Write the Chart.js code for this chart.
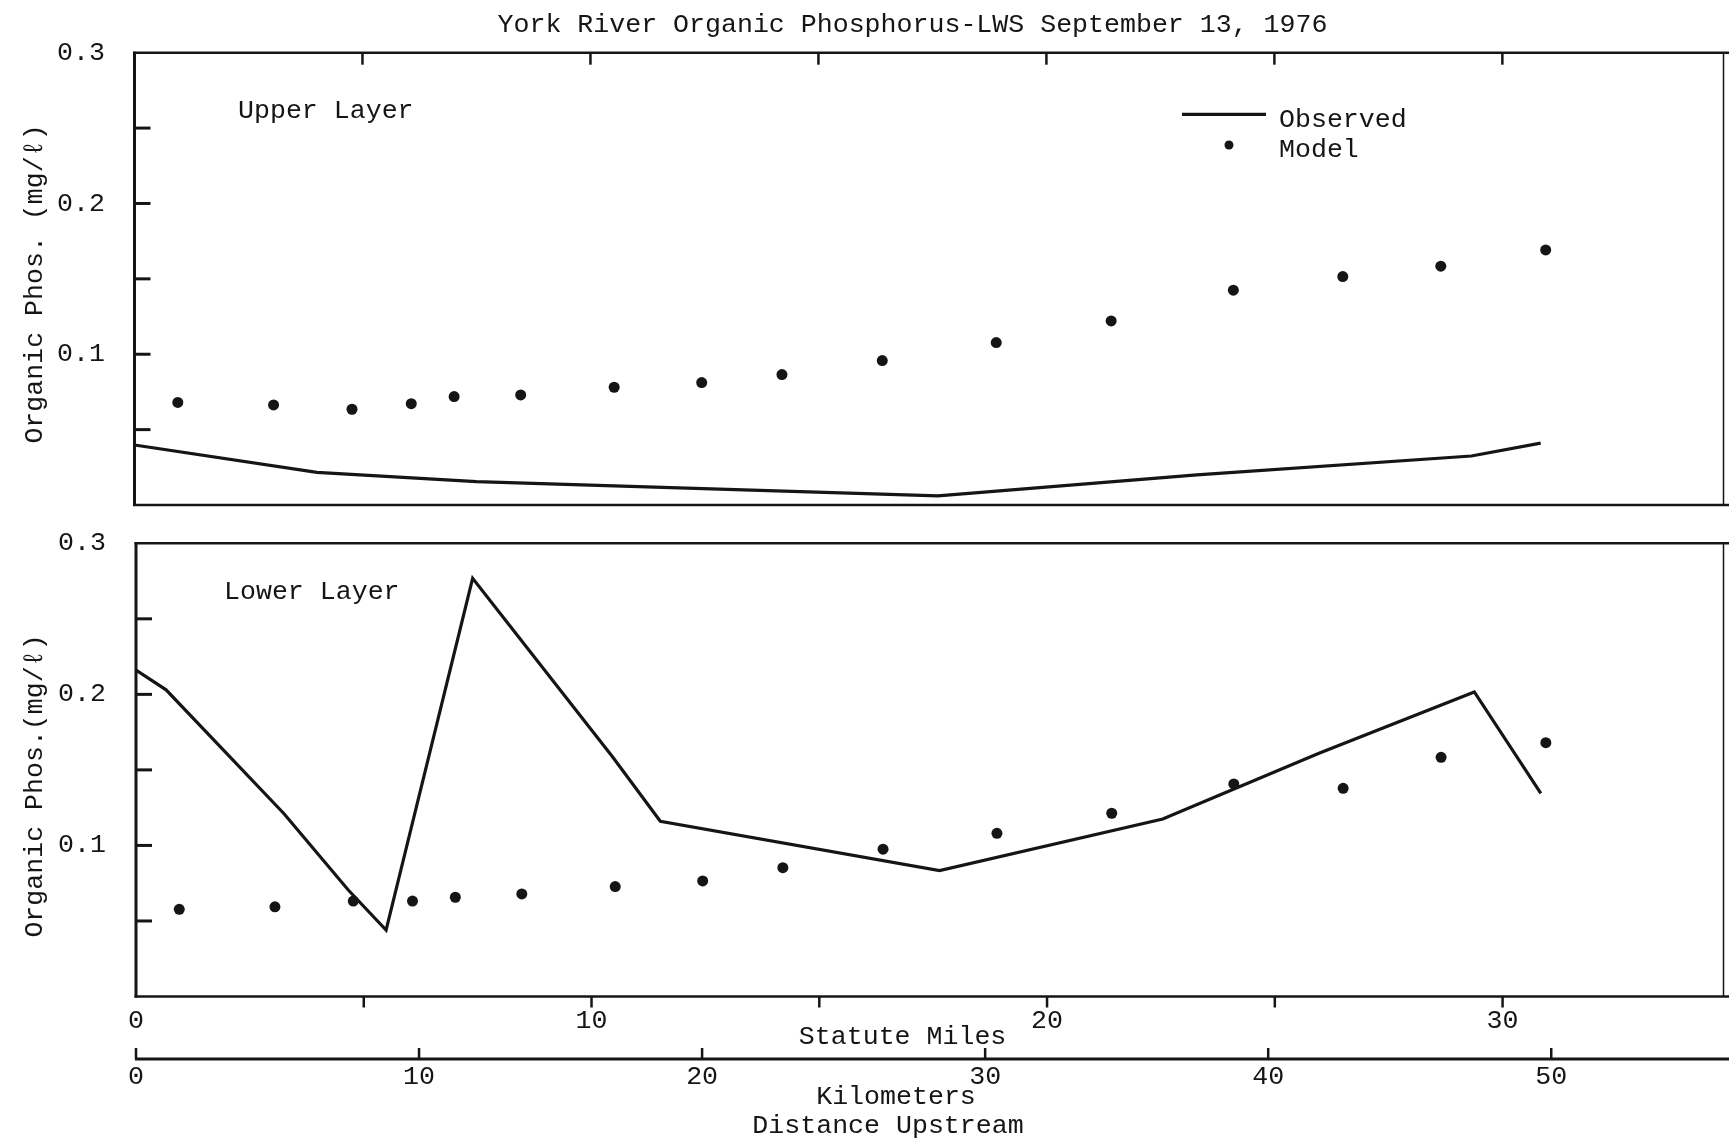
<!DOCTYPE html>
<html>
<head>
<meta charset="utf-8">
<title>York River Organic Phosphorus-LWS September 13, 1976</title>
<script src="https://cdn.jsdelivr.net/npm/chart.js@4.4.0/dist/chart.umd.min.js"></script>
<style>
  html, body { margin: 0; padding: 0; background: #fff; }
  #wrap { position: relative; width: 1729px; height: 1142px; background: #fff; overflow: hidden; }
  canvas { position: absolute; left: 0; }
  #upper { top: 0; }
  #lower { top: 520px; }
</style>
</head>
<body>
<div id="wrap">
  <canvas id="upper" width="1729" height="520"></canvas>
  <canvas id="lower" width="1729" height="622"></canvas>
</div>
<script>
// ---- data -------------------------------------------------------------
// Model segment centres, statute miles upstream (same for both layers)
const modelMiles    = [0.95, 3.05, 4.77, 6.07, 7.01, 8.47, 10.52, 12.44, 14.2, 16.4, 18.9, 21.42, 24.1, 26.5, 28.65, 30.95];
const upperModel    = [0.068, 0.0664, 0.0635, 0.0672, 0.0719, 0.073, 0.0781, 0.0812, 0.0865, 0.0958, 0.1077, 0.1221, 0.1425, 0.1515, 0.1584, 0.1692];
const lowerModel    = [0.0577, 0.0594, 0.0632, 0.0632, 0.0657, 0.0679, 0.0728, 0.0765, 0.0853, 0.0975, 0.108, 0.1213, 0.1407, 0.1378, 0.1583, 0.168];

// Observed profiles (mg/l) along the river
const upperObsMiles = [0, 4.0, 7.5, 17.62, 23.3, 29.32, 30.84];
const upperObserved = [0.0398, 0.0217, 0.0155, 0.006, 0.02, 0.0325, 0.041];
const lowerObsMiles = [0, 0.66, 3.25, 4.66, 5.49, 7.39, 10.46, 11.51, 17.64, 22.54, 25.97, 29.38, 30.84];
const lowerObserved = [0.216, 0.203, 0.121, 0.0705, 0.044, 0.2768, 0.1587, 0.116, 0.0833, 0.1175, 0.161, 0.2016, 0.1345];

// Axis labelling
const seriesNames    = ['Observed', 'Model'];
const yTickLabels    = ['0.1', '0.2', '0.3'];
const mileTickLabels = ['0', '10', '20', '30'];
const kmTickLabels   = ['0', '10', '20', '30', '40', '50'];
const MILES_MAX = 34.85;
const KM_PER_MILE = 1.609344;

// ---- styling helpers --------------------------------------------------
const INK = '#151515';
const FONT = '"Liberation Mono", "DejaVu Sans Mono", monospace';
const FONT_SIZE = 26.6;

const pairs = (xs, ys) => xs.map((x, i) => ({ x, y: ys[i] }));

function datasets(obsMiles, obs, model) {
  return [
    { label: seriesNames[0], data: pairs(obsMiles, obs), showLine: true, pointRadius: 0,
      borderColor: INK, borderWidth: 3.2, backgroundColor: INK, borderJoinStyle: 'miter' },
    { label: seriesNames[1], data: pairs(modelMiles, model), showLine: false, pointRadius: 5.5,
      pointBorderWidth: 0, backgroundColor: INK, borderColor: INK }
  ];
}

// Frame, inward ticks and the kilometre rule
const framePlugin = {
  id: 'frame',
  afterDatasetsDraw(chart, args, o) {
    const { ctx, chartArea: a, scales } = chart;
    const x = scales.x, y = scales.y;
    const seg = (x1, y1, x2, y2, w) => {
      ctx.lineWidth = w; ctx.beginPath(); ctx.moveTo(x1, y1); ctx.lineTo(x2, y2); ctx.stroke();
    };
    ctx.save();
    ctx.strokeStyle = INK;
    ctx.lineCap = 'butt';
    seg(a.left - 1.5, a.top, o.rightEdge, a.top, 2.5);
    seg(a.left - 1.5, a.bottom, o.rightEdge, a.bottom, 2.5);
    seg(a.left, a.top - 1, a.left, a.bottom + 1, 3);
    seg(a.right, a.top, a.right, a.bottom, 1.5);
    y.ticks.forEach(t => {
      if (t.value > 1e-6 && t.value < y.max - 1e-6) {
        const p = y.getPixelForValue(t.value);
        seg(a.left, p, a.left + o.yTick, p, 3);
      }
    });
    x.ticks.forEach(t => {
      if (t.value <= 0) return;
      const p = x.getPixelForValue(t.value);
      if (o.topTicks) seg(p, a.top, p, a.top + o.topTicks, 2.5);
      if (o.bottomTicks) seg(p, a.bottom, p, a.bottom + o.bottomTicks, 2.5);
    });
    const km = scales.km;
    if (km) {
      const ky = km.top + o.kmOffset;
      seg(a.left - 1, ky, o.rightEdge, ky, 3);
      km.ticks.forEach(t => {
        const p = km.getPixelForValue(t.value);
        seg(p, ky, p, ky - o.kmTick, 2.5);
      });
    }
    ctx.restore();
  }
};

// Free-standing text: titles, panel names and the key
const captionPlugin = {
  id: 'captions',
  afterDraw(chart, args, o) {
    const ctx = chart.ctx;
    ctx.save();
    ctx.fillStyle = INK;
    ctx.strokeStyle = INK;
    ctx.font = `${FONT_SIZE}px ${FONT}`;
    ctx.textBaseline = 'alphabetic';
    for (const c of o.items) {
      ctx.save();
      ctx.translate(c.x, c.y);
      if (c.rotate) ctx.rotate(c.rotate);
      ctx.textAlign = c.align || 'center';
      ctx.fillText(c.text, 0, 0);
      ctx.restore();
    }
    const L = o.key;
    if (L) {
      const [line, dots] = chart.data.datasets;
      ctx.lineWidth = line.borderWidth;
      ctx.beginPath(); ctx.moveTo(L.lineX1, L.lineY); ctx.lineTo(L.lineX2, L.lineY); ctx.stroke();
      ctx.textAlign = 'left';
      ctx.fillText(line.label, L.textX, L.lineBase);
      ctx.beginPath(); ctx.arc(L.dotX, L.dotY, L.dotR, 0, Math.PI * 2); ctx.fill();
      ctx.fillText(dots.label, L.textX, L.dotBase);
    }
    ctx.restore();
  }
};

const tickFont = { family: FONT, size: FONT_SIZE };
const noGrid = { display: false, drawTicks: false, tickLength: 0 };

function yScale(width, pad) {
  return {
    type: 'linear', min: 0, max: 0.3,
    afterFit: s => { s.width = width; s.paddingTop = 0; s.paddingBottom = 0; },
    grid: noGrid, border: { display: false },
    ticks: {
      stepSize: 0.05, autoSkip: false, padding: pad, color: INK, font: tickFont,
      callback: v => {
        const s = v.toFixed(1);
        return Math.abs(v * 10 - Math.round(v * 10)) < 1e-6 && yTickLabels.includes(s) ? s : '';
      }
    }
  };
}

function milesScale(show, height) {
  return {
    type: 'linear', position: 'bottom', min: 0, max: MILES_MAX, display: show, weight: 0,
    afterFit: s => { s.height = show ? height : 0; s.paddingLeft = 0; s.paddingRight = 0; },
    grid: noGrid, border: { display: false },
    ticks: {
      display: show,
      stepSize: 5, includeBounds: false, autoSkip: false, maxRotation: 0, padding: 8.5,
      color: INK, font: tickFont,
      callback: v => mileTickLabels.includes(String(v)) ? String(v) : ''
    }
  };
}

// ---- upper layer ------------------------------------------------------
new Chart(document.getElementById('upper'), {
  type: 'scatter',
  data: { datasets: datasets(upperObsMiles, upperObserved, upperModel) },
  options: {
    responsive: false, animation: false, devicePixelRatio: 1,
    layout: { padding: { top: 52.7, bottom: 15, left: 0, right: 2 } },
    scales: { x: milesScale(false, 0), y: yScale(134.5, 29.5) },
    plugins: {
      legend: { display: false }, tooltip: { enabled: false },
      frame: { rightEdge: 1729, yTick: 16, topTicks: 12 },
      captions: {
        items: [
          { text: 'York River Organic Phosphorus-LWS September 13, 1976', x: 912.5, y: 31.7 },
          { text: 'Organic Phos. (mg/\u2113)', x: 42, y: 284, rotate: -Math.PI / 2 },
          { text: 'Upper Layer', x: 238, y: 118.3, align: 'left' }
        ],
        key: { lineX1: 1182, lineX2: 1266, lineY: 114.3, lineBase: 126.7,
               dotX: 1229, dotY: 145, dotR: 4.5, dotBase: 156.7, textX: 1279 }
      }
    }
  },
  plugins: [framePlugin, captionPlugin]
});

// ---- lower layer with distance axes -----------------------------------
const kmAxis = {
  type: 'linear', position: 'bottom', weight: 1,
  min: 0, max: MILES_MAX * KM_PER_MILE,
  afterFit: s => { s.height = 89.5; s.paddingLeft = 0; s.paddingRight = 0; },
  grid: noGrid, border: { display: false },
  ticks: {
    stepSize: 10, includeBounds: false, autoSkip: false, maxRotation: 0, padding: 8.5,
    color: INK, font: tickFont,
    callback: v => kmTickLabels.includes(String(v)) ? String(v) : ''
  }
};

new Chart(document.getElementById('lower'), {
  type: 'scatter',
  data: { datasets: datasets(lowerObsMiles, lowerObserved, lowerModel) },
  options: {
    responsive: false, animation: false, devicePixelRatio: 1,
    layout: { padding: { top: 23.3, bottom: 0, left: 0, right: 2 } },
    scales: { x: milesScale(true, 56), km: kmAxis, y: yScale(136, 30) },
    plugins: {
      legend: { display: false }, tooltip: { enabled: false },
      frame: { rightEdge: 1729, yTick: 16, bottomTicks: 11, kmOffset: 6.5, kmTick: 11 },
      captions: {
        items: [
          { text: 'Organic Phos.(mg/\u2113)', x: 42, y: 266, rotate: -Math.PI / 2 },
          { text: 'Lower Layer', x: 224, y: 79.3, align: 'left' },
          { text: 'Statute Miles', x: 902.6, y: 524 },
          { text: 'Kilometers', x: 896, y: 584 },
          { text: 'Distance Upstream', x: 888, y: 613.3 }
        ]
      }
    }
  },
  plugins: [framePlugin, captionPlugin]
});
</script>
</body>
</html>
